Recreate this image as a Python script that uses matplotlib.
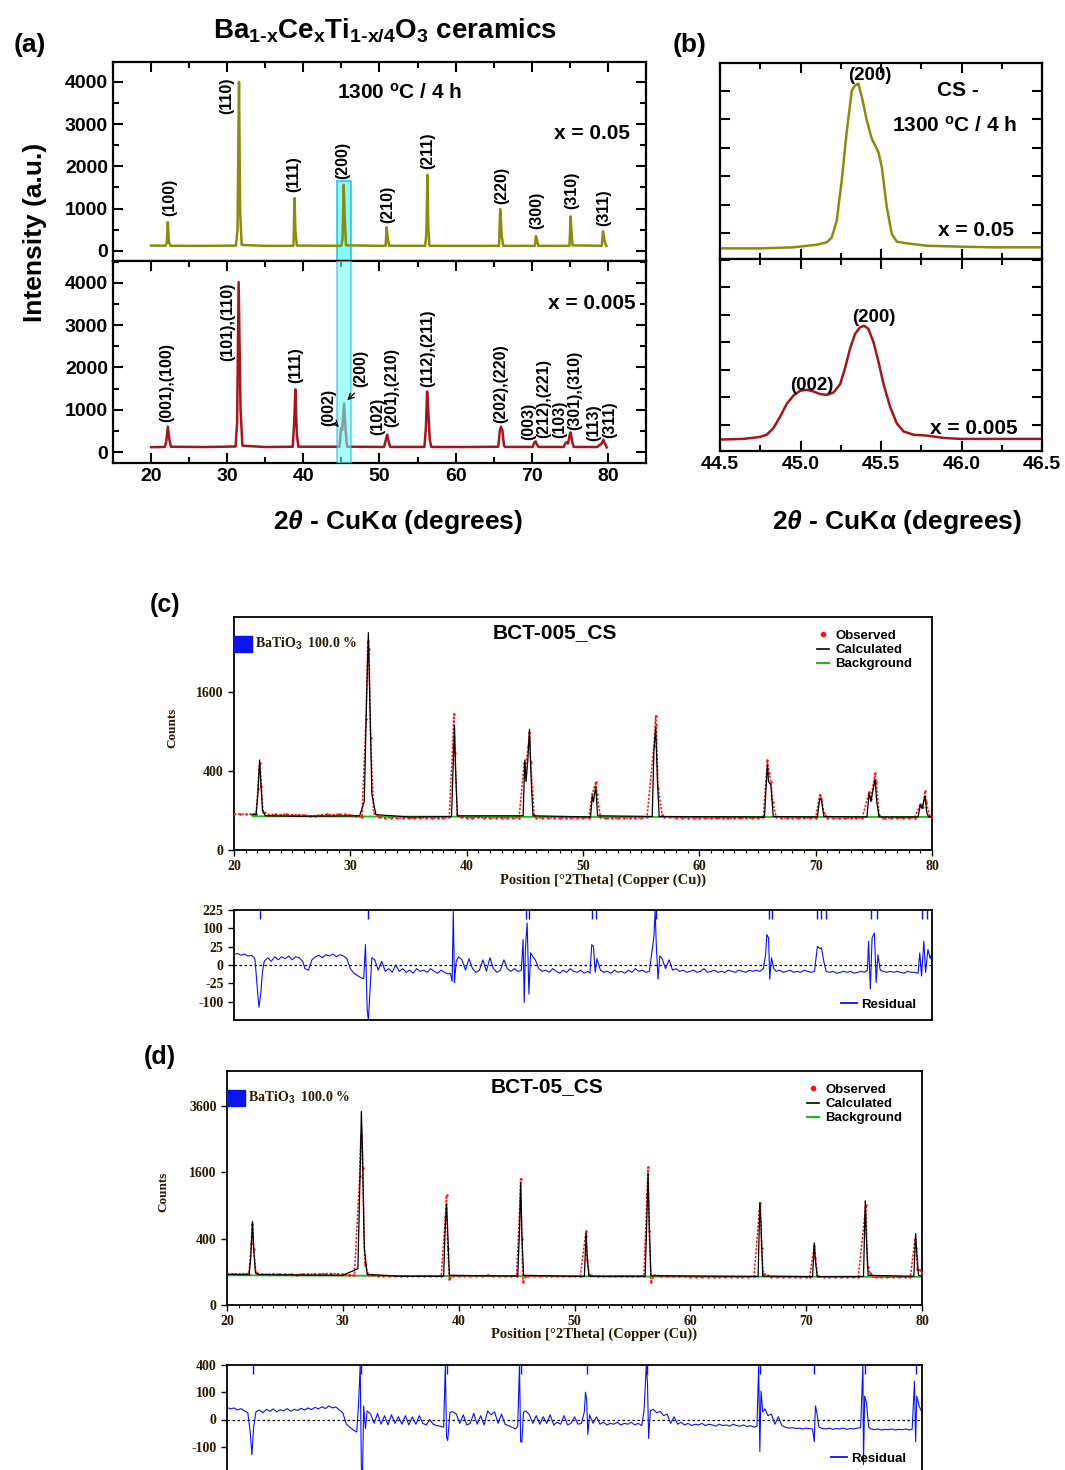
import numpy as np
import matplotlib
matplotlib.use("Agg")
import matplotlib.pyplot as plt
from matplotlib.patches import Rectangle
from matplotlib.lines import Line2D
from matplotlib.ticker import MultipleLocator, FixedLocator

plt.rcParams['font.family'] = ['Liberation Sans', 'DejaVu Sans']
plt.rcParams['font.weight'] = 'bold'
plt.rcParams['axes.unicode_minus'] = False
plt.rcParams['mathtext.fontset'] = 'custom'
plt.rcParams['mathtext.rm'] = 'Liberation Sans:bold'
plt.rcParams['mathtext.it'] = 'Liberation Sans:italic:bold'
plt.rcParams['mathtext.bf'] = 'Liberation Sans:bold'

# ---- panel (a): full patterns, x = 0.05 (top) and x = 0.005 (bottom)
a05_x = [20.0, 21.9, 22.05, 22.2, 22.35, 22.55, 27.0, 31.15, 31.35, 31.55, 31.7, 31.9, 35.0,
         38.7, 38.85, 38.95, 39.15, 45.0, 45.15, 45.3, 45.45, 45.6, 50.8, 50.95, 51.05, 51.25,
         56.0, 56.15, 56.3, 56.4, 56.55, 61.0, 65.7, 65.85, 65.95, 66.05, 66.25, 70.4, 70.55,
         70.7, 70.85, 74.95, 75.1, 75.2, 75.35, 79.2, 79.35, 79.5, 79.65, 79.8]
a05_y = [125, 122, 180, 680, 200, 120, 118, 125, 500, 4000, 900, 140, 118,
         120, 1250, 500, 125, 120, 300, 1560, 700, 130, 118, 560, 350, 120,
         120, 400, 1800, 600, 120, 118, 120, 990, 700, 350, 120, 118, 350,
         250, 118, 120, 820, 500, 130, 120, 460, 300, 180, 115]

a005_x = [20.0, 21.8, 22.0, 22.2, 22.4, 22.6, 27.0, 31.1, 31.3, 31.5, 31.75, 32.0, 35.0,
          38.6, 38.8, 38.95, 39.15, 39.35, 44.75, 44.95, 45.1, 45.35, 45.55, 45.75,
          50.6, 50.85, 51.0, 51.2, 51.4, 55.9, 56.1, 56.25, 56.4, 56.6, 56.8, 61.0,
          65.6, 65.8, 65.95, 66.15, 66.35, 66.5, 70.1, 70.35, 70.5, 70.7, 70.9,
          74.2, 74.45, 74.6, 74.75, 75.0, 75.1, 75.3, 75.5, 78.6, 78.9, 79.05, 79.25,
          79.4, 79.6, 79.85]
a005_y = [115, 120, 250, 600, 300, 125, 118, 130, 700, 4020, 1000, 150, 118,
          125, 700, 1480, 400, 125, 125, 560, 520, 1150, 500, 125,
          120, 300, 410, 250, 120, 120, 600, 1430, 1000, 300, 120, 118,
          125, 500, 600, 500, 150, 120, 120, 230, 252, 170, 120,
          120, 220, 229, 200, 420, 465, 250, 120, 118, 170, 174, 230,
          292, 200, 110]

a05_labels = ["(100)", "(110)", "(111)", "(200)", "(210)", "(211)", "(220)", "(300)", "(310)", "(311)"]
a005_labels = ["(001),(100)", "(101),(110)", "(111)", "(002)", "(200)", "(102)", "(201),(210)",
               "(112),(211)", "(202),(220)", "(003)", "(212),(221)", "(103)", "(301),(310)",
               "(113)", "(311)"]

# ---- panel (b): (200) region
b05_x = [44.500, 44.749, 44.956, 45.101, 45.163, 45.194, 45.225, 45.256, 45.288, 45.319,
         45.339, 45.360, 45.381, 45.412, 45.443, 45.484, 45.505, 45.536, 45.567, 45.598,
         45.661, 45.785, 45.992, 46.199, 46.500]
b05_y = [120, 120, 129, 152, 173, 216, 362, 713, 1151, 1501,
         1545, 1560, 1443, 1238, 1078, 961, 830, 479, 246, 178,
         164, 143, 135, 129, 129]
b005_x = [44.500, 44.645, 44.749, 44.790, 44.832, 44.873, 44.915, 44.956, 44.997, 45.039,
          45.080, 45.122, 45.163, 45.205, 45.246, 45.277, 45.308, 45.339, 45.370, 45.395,
          45.422, 45.453, 45.484, 45.516, 45.557, 45.598, 45.640, 45.702, 45.785, 45.889,
          45.992, 46.199, 46.500]
b005_y = [114, 120, 138, 158, 218, 321, 440, 514, 558, 567,
          552, 528, 520, 543, 617, 765, 943, 1076, 1135, 1150,
          1120, 1002, 824, 617, 410, 262, 188, 158, 150, 129,
          120, 120, 120]

# ---- panel (c): Rietveld fit BCT-005_CS
calc_c_x = [21.6, 21.9, 22.05, 22.2, 22.3, 22.45, 22.7, 26.0, 30.8, 31.2, 31.4, 31.55, 31.7, 31.85,
            32.2, 35.0, 38.7, 38.85, 38.95, 39.05, 39.2, 44.85, 45.0, 45.1, 45.25, 45.4, 45.55,
            45.7, 50.65, 50.8, 50.9, 51.1, 51.25, 55.95, 56.1, 56.25, 56.4, 56.55, 65.6, 65.85,
            65.95, 66.15, 66.35, 70.15, 70.35, 70.5, 70.7, 74.4, 74.6, 74.75, 75.1, 75.25, 75.45,
            78.8, 79.0, 79.15, 79.4, 79.55, 79.7, 80.0]
calc_c_y = [80, 80, 200, 519, 300, 100, 75, 73, 75, 150, 1500, 3027, 1200, 200,
            80, 70, 72, 500, 991, 400, 75, 75, 519, 300, 500, 933, 300,
            75, 70, 189, 150, 262, 75, 72, 641, 959, 300, 72, 70, 474,
            300, 271, 72, 70, 171, 160, 72, 70, 206, 150, 320, 150, 70,
            70, 130, 110, 187, 90, 70, 70]
obs_c_x = [20.0, 20.5, 21.0, 21.5, 21.9, 22.05, 22.15, 22.25, 22.35, 22.5, 23.0, 23.5, 24.0, 24.5,
           25.0, 25.5, 26.0, 26.5, 27.0, 27.5, 28.0, 28.5, 29.0, 29.5, 30.0, 30.5, 31.0, 31.35,
           31.5, 31.6, 31.75, 32.0, 32.5, 33.0, 33.5, 34.0, 34.5, 35.0, 35.5, 36.0, 36.5, 37.0,
           37.5, 38.0, 38.5, 38.8, 38.9, 39.0, 39.2, 39.5, 40.0, 40.5, 41.0, 41.5, 42.0, 42.5,
           43.0, 43.5, 44.0, 44.5, 44.95, 45.05, 45.3, 45.4, 45.5, 45.8, 46.0, 46.5, 47.0, 47.5,
           48.0, 48.5, 49.0, 49.5, 50.0, 50.5, 50.8, 51.1, 51.2, 51.5, 52.0, 52.5, 53.0, 53.5,
           54.0, 54.5, 55.0, 55.5, 56.1, 56.25, 56.3, 56.45, 56.8, 57.0, 57.5, 58.0, 58.5, 59.0,
           59.5, 60.0, 60.5, 61.0, 61.5, 62.0, 62.5, 63.0, 63.5, 64.0, 64.5, 65.0, 65.5, 65.85,
           66.0, 66.15, 66.3, 66.6, 67.0, 67.5, 68.0, 68.5, 69.0, 69.5, 70.0, 70.35, 70.5, 70.7,
           71.0, 71.5, 72.0, 72.5, 73.0, 73.5, 74.0, 74.6, 74.75, 75.1, 75.2, 75.45, 75.8, 76.0,
           76.5, 77.0, 77.5, 78.0, 78.5, 79.0, 79.2, 79.4, 79.5, 79.8, 80.0]
obs_c_y = [84, 83, 82, 83, 85, 240, 420, 480, 260, 95, 80, 81, 80, 82,
           79, 80, 78, 74, 76, 80, 81, 80, 82, 81, 78, 74, 70, 1100,
           2800, 2600, 800, 90, 68, 66, 67, 65, 66, 66, 65, 67, 66, 66,
           65, 66, 68, 700, 1185, 600, 80, 68, 67, 66, 68, 67, 66, 66,
           67, 66, 66, 67, 480, 420, 700, 900, 500, 80, 67, 66, 66, 67,
           65, 66, 67, 66, 66, 67, 200, 299, 200, 68, 64, 64, 65, 65,
           66, 66, 67, 68, 700, 1151, 1000, 250, 80, 70, 68, 67, 67, 66,
           66, 66, 66, 65, 65, 65, 64, 65, 65, 65, 66, 66, 68, 520,
           380, 300, 150, 70, 66, 66, 65, 66, 66, 66, 67, 195, 170, 90,
           66, 65, 64, 64, 65, 65, 66, 215, 170, 377, 300, 80, 66, 66,
           66, 66, 65, 66, 67, 135, 120, 223, 150, 72, 68]
bg_c_x = [21.6, 30.0, 40.0, 50.0, 60.0, 70.0, 80.0]
bg_c_y = [73, 72, 71, 70, 70, 70, 70]
res_c = [(20.0, 8), (20.3, 10), (20.6, 7), (20.9, 9), (21.2, 6), (21.5, 7), (21.8, 3), (22.0, -40),
         (22.15, -133), (22.3, -60), (22.45, -3), (22.6, 1), (22.9, 4), (23.2, 1), (23.5, 5),
         (23.8, 2), (24.1, 5), (24.4, 3), (24.7, 6), (25.0, 2), (25.3, 5), (25.6, 4), (25.9, 1),
         (26.1, -1), (26.4, -2), (26.7, 2), (27.0, 5), (27.3, 7), (27.6, 4), (27.9, 8), (28.2, 6),
         (28.5, 9), (28.8, 5), (29.1, 8), (29.4, 6), (29.7, 3), (30.0, -1), (30.3, -5), (30.6, -8),
         (30.9, -12), (31.15, -14), (31.3, 31), (31.45, -150), (31.55, -225), (31.7, -40),
         (31.85, 4), (32.1, 2), (32.4, -2), (32.7, 1), (33.0, -3), (33.3, -1), (33.6, -4), (33.9, 0),
         (34.2, -3), (34.5, -1), (34.8, -4), (35.1, -2), (35.4, -5), (35.7, -1), (36.0, -3),
         (36.3, -2), (36.6, -4), (36.9, -1), (37.2, -3), (37.5, -5), (37.8, -2), (38.1, -4),
         (38.4, -6), (38.6, -5), (38.75, -20), (38.85, 225), (38.95, -23), (39.1, 1), (39.3, 5),
         (39.6, 2), (39.9, -2), (40.2, 3), (40.5, -1), (40.8, -4), (41.1, -2), (41.4, 2), (41.7, -3),
         (42.0, 4), (42.3, -1), (42.6, -4), (42.9, -2), (43.2, 2), (43.5, -1), (43.8, -3), (44.1, -1),
         (44.4, -3), (44.7, -2), (44.85, 48), (44.95, -104), (45.05, 20), (45.2, 131), (45.35, -63),
         (45.5, 11), (45.7, 5), (45.9, 2), (46.2, -1), (46.5, -3), (46.8, -2), (47.1, -4), (47.4, -1),
         (47.7, -3), (48.0, -5), (48.3, -2), (48.6, -4), (48.9, -1), (49.2, -3), (49.5, -4),
         (49.8, -2), (50.1, -5), (50.4, -3), (50.6, -5), (50.75, 31), (50.9, 25), (51.05, -4),
         (51.2, 3), (51.5, -2), (51.8, -4), (52.1, -3), (52.4, -5), (52.7, -2), (53.0, -4),
         (53.3, -3), (53.6, -5), (53.9, -2), (54.2, -4), (54.5, -1), (54.8, -3), (55.1, -2),
         (55.4, -4), (55.7, -3), (55.95, 18), (56.1, 60), (56.2, 225), (56.3, 31), (56.45, -15),
         (56.6, 6), (56.8, 3), (57.1, -1), (57.4, 2), (57.7, -2), (58.0, -1), (58.3, -3), (58.6, -2),
         (58.9, -4), (59.2, -3), (59.5, -2), (59.8, -4), (60.1, -3), (60.4, -1), (60.7, -4),
         (61.0, -3), (61.3, -2), (61.6, -4), (61.9, -3), (62.2, -4), (62.5, -2), (62.8, -3),
         (63.1, -4), (63.4, -2), (63.7, -3), (64.0, -4), (64.3, -2), (64.6, -3), (64.9, -2),
         (65.2, -3), (65.5, -1), (65.7, 8), (65.8, 69), (65.95, 55), (66.05, -15), (66.2, 4),
         (66.4, -1), (66.6, -3), (66.9, -2), (67.2, -4), (67.5, -3), (67.8, -2), (68.1, -4),
         (68.4, -3), (68.7, -4), (69.0, -2), (69.3, -3), (69.6, -4), (69.9, -3), (70.15, 26),
         (70.35, 20), (70.5, 22), (70.7, 1), (70.9, -3), (71.2, -4), (71.5, -3), (71.8, -5),
         (72.1, -4), (72.4, -3), (72.7, -4), (73.0, -3), (73.3, -5), (73.6, -4), (73.9, -3),
         (74.2, -4), (74.45, -2), (74.55, 42), (74.7, -43), (74.85, 55), (75.05, 76), (75.2, -23),
         (75.35, 8), (75.55, -2), (75.8, -3), (76.1, -4), (76.4, -3), (76.7, -4), (77.0, -3),
         (77.3, -4), (77.6, -5), (77.9, -3), (78.2, -4), (78.5, -4), (78.8, -5), (78.95, 11),
         (79.1, -9), (79.3, 42), (79.45, -4), (79.65, 18), (79.85, 3), (80.0, 12)]
refl_c = [22.2, 31.55, 45.1, 45.4, 50.8, 51.1, 56.25, 65.95, 66.25, 70.15, 70.45, 70.85,
          74.75, 75.3, 79.15, 79.6]

# ---- panel (d): Rietveld fit BCT-05_CS
calc_d_x = [20.0, 21.9, 22.05, 22.2, 22.3, 22.45, 22.7, 26.0, 30.0, 31.3, 31.5, 31.6, 31.7, 31.85,
            32.1, 35.0, 38.7, 38.85, 38.95, 39.05, 39.2, 45.1, 45.25, 45.35, 45.45, 45.6, 50.85,
            51.0, 51.1, 51.25, 56.1, 56.25, 56.35, 56.45, 56.6, 65.85, 66.0, 66.1, 66.25, 70.55,
            70.7, 70.8, 70.95, 74.95, 75.1, 75.2, 75.35, 79.3, 79.45, 79.55, 79.7, 80.0]
calc_d_y = [85, 84, 200, 635, 300, 95, 84, 82, 80, 120, 1700, 3400, 2200, 300,
            85, 75, 75, 600, 930, 500, 80, 76, 500, 1347, 500, 80, 74,
            462, 200, 75, 75, 700, 1576, 600, 78, 74, 949, 600, 76, 73,
            350, 180, 73, 74, 986, 400, 80, 75, 462, 250, 80, 75]
obs_d_x = [20.0, 20.5, 21.0, 21.5, 21.9, 22.1, 22.2, 22.3, 22.5, 23.0, 23.5, 24.0, 24.5, 25.0,
           25.5, 26.0, 26.5, 27.0, 27.5, 28.0, 28.5, 29.0, 29.5, 30.0, 30.5, 31.0, 31.45, 31.55,
           31.7, 31.9, 32.2, 32.5, 33.0, 33.5, 34.0, 34.5, 35.0, 35.5, 36.0, 36.5, 37.0, 37.5,
           38.0, 38.5, 38.85, 38.95, 39.05, 39.2, 39.5, 40.0, 40.5, 41.0, 41.5, 42.0, 42.5, 43.0,
           43.5, 44.0, 44.5, 45.0, 45.3, 45.35, 45.45, 45.55, 45.8, 46.0, 46.5, 47.0, 47.5, 48.0,
           48.5, 49.0, 49.5, 50.0, 50.5, 50.95, 51.0, 51.1, 51.3, 52.0, 52.5, 53.0, 53.5, 54.0,
           54.5, 55.0, 55.5, 56.0, 56.25, 56.35, 56.45, 56.6, 56.9, 57.5, 58.0, 58.5, 59.0, 59.5,
           60.0, 60.5, 61.0, 61.5, 62.0, 62.5, 63.0, 63.5, 64.0, 64.5, 65.0, 65.5, 65.95, 66.05,
           66.15, 66.3, 67.0, 67.5, 68.0, 68.5, 69.0, 69.5, 70.0, 70.3, 70.7, 70.8, 71.0, 71.5,
           72.0, 72.5, 73.0, 73.5, 74.0, 74.5, 75.05, 75.15, 75.3, 75.5, 75.8, 76.0, 76.5, 77.0,
           77.5, 78.0, 78.5, 79.0, 79.4, 79.5, 79.6, 79.8, 80.0]
obs_d_y = [90, 89, 88, 88, 90, 350, 600, 280, 95, 87, 86, 87, 86, 85,
           85, 84, 86, 87, 86, 88, 89, 90, 88, 86, 82, 80, 1500, 2600,
           1700, 150, 84, 80, 78, 78, 77, 77, 76, 76, 77, 76, 76, 76,
           75, 77, 700, 1089, 300, 60, 78, 76, 76, 75, 76, 76, 80, 77,
           76, 76, 76, 78, 1000, 1444, 400, 50, 78, 76, 76, 76, 76, 75,
           76, 76, 75, 76, 76, 430, 497, 180, 80, 76, 75, 76, 76, 77,
           76, 76, 77, 78, 1100, 1722, 500, 50, 80, 77, 76, 76, 75, 74,
           73, 73, 73, 73, 73, 72, 73, 73, 73, 73, 73, 74, 800, 940,
           300, 90, 73, 73, 72, 72, 72, 72, 72, 73, 320, 200, 74, 72,
           71, 71, 71, 71, 72, 72, 700, 900, 130, 95, 75, 71, 71, 70,
           70, 71, 71, 72, 400, 300, 120, 110, 95]
bg_d_x = [20.0, 40.0, 60.0, 80.0]
bg_d_y = [80, 76, 73, 72]
res_d = [(20.0, 20), (20.3, 15), (20.6, 18), (20.9, 12), (21.2, 16), (21.5, 10), (21.8, 6), (22.0, -20),
         (22.15, -167), (22.3, -8), (22.5, 8), (22.8, 12), (23.1, 6), (23.4, 14), (23.7, 9), (24.0, 15),
         (24.3, 8), (24.6, 13), (24.9, 10), (25.2, 16), (25.5, 9), (25.8, 14), (26.1, 11), (26.4, 17),
         (26.7, 12), (27.0, 18), (27.3, 13), (27.6, 20), (27.9, 15), (28.2, 22), (28.5, 16),
         (28.8, 25), (29.1, 18), (29.4, 21), (29.7, 12), (30.0, 6), (30.3, -3), (30.6, -8),
         (30.9, -15), (31.2, -21), (31.35, 25), (31.5, 400), (31.6, -314), (31.7, -400), (31.8, 25),
         (31.95, -11), (32.1, 10), (32.4, 4), (32.7, -2), (33.0, 5), (33.3, -3), (33.6, 2), (33.9, -4),
         (34.2, 3), (34.5, -2), (34.8, 1), (35.1, -3), (35.4, 2), (35.7, -4), (36.0, 1), (36.3, -3),
         (36.6, 2), (36.9, -2), (37.2, -4), (37.5, 0), (37.8, -3), (38.1, -5), (38.4, -6), (38.7, -8),
         (38.85, 400), (38.95, -40), (39.05, -60), (39.25, 7), (39.5, 8), (39.8, 4), (40.1, -2),
         (40.4, 3), (40.7, -4), (41.0, -2), (41.3, 5), (41.6, -3), (41.9, 2), (42.2, -4), (42.5, 10),
         (42.8, 3), (43.1, 8), (43.4, -2), (43.7, 4), (44.0, -3), (44.3, -5), (44.6, -8), (44.9, -12),
         (45.1, -6), (45.25, 400), (45.35, -66), (45.45, -70), (45.6, 7), (45.8, 10), (46.1, 3),
         (46.4, -2), (46.7, 2), (47.0, -3), (47.3, 1), (47.6, -2), (47.9, 3), (48.2, -4), (48.5, -1),
         (48.8, -3), (49.1, 2), (49.4, -4), (49.7, -2), (50.0, 1), (50.3, -3), (50.6, -2), (50.85, 8),
         (50.95, 100), (51.05, 55), (51.15, -30), (51.3, 3), (51.6, -2), (51.9, 1), (52.2, -3),
         (52.5, -1), (52.8, -4), (53.1, -2), (53.4, -3), (53.7, -1), (54.0, -4), (54.3, -2),
         (54.6, -3), (54.9, -1), (55.2, -4), (55.5, -2), (55.8, -5), (56.0, 10), (56.2, 400),
         (56.3, 180), (56.4, -48), (56.55, 10), (56.8, 14), (57.1, 6), (57.4, 9), (57.7, 2), (58.0, 4),
         (58.3, -2), (58.6, 1), (58.9, -3), (59.2, -1), (59.5, -4), (59.8, -2), (60.1, -5), (60.4, -3),
         (60.7, -4), (61.0, -2), (61.3, -5), (61.6, -3), (61.9, -4), (62.2, -6), (62.5, -3),
         (62.8, -5), (63.1, -4), (63.4, -6), (63.7, -3), (64.0, -5), (64.3, -6), (64.6, -4),
         (64.9, -7), (65.2, -5), (65.5, -8), (65.75, -6), (65.9, 400), (66.0, -138), (66.1, 109),
         (66.25, 8), (66.45, 15), (66.7, 2), (67.0, 4), (67.3, -3), (67.6, 1), (67.9, -5), (68.2, -8),
         (68.5, -10), (68.8, -9), (69.1, -11), (69.4, -10), (69.7, -12), (70.0, -10), (70.3, -11),
         (70.55, -12), (70.7, -66), (70.8, 25), (70.9, 10), (71.1, -8), (71.4, -11), (71.7, -12),
         (72.0, -10), (72.3, -13), (72.6, -11), (72.9, -12), (73.2, -10), (73.5, -13), (73.8, -11),
         (74.1, -12), (74.4, -10), (74.7, -9), (74.9, 400), (74.95, -273), (75.05, 74), (75.2, 39),
         (75.4, -8), (75.6, -12), (75.9, -14), (76.2, -12), (76.5, -15), (76.8, -13), (77.1, -14),
         (77.4, -12), (77.7, -15), (78.0, -13), (78.3, -14), (78.6, -12), (78.9, -15), (79.15, -13),
         (79.35, 196), (79.45, -66), (79.55, 74), (79.75, 25), (79.9, 12), (80.0, 10)]
refl_d = [22.25, 31.6, 38.95, 45.35, 51.05, 56.3, 66.0, 70.7, 75.05, 79.45]

W, H = 1065, 1470
OLIVE = '#8c8c0a'
DRED = '#a8141c'
TXT = '#2b1a00'
XLAB = r'2$\theta$ - CuK$\mathrm{\alpha}$ (degrees)'


def box(x0, y0, x1, y1):
    return [x0 / W, 1 - y1 / H, (x1 - x0) / W, (y1 - y0) / H]


def ftext(x, y, s, **kw):
    fig.text(x / W, 1 - y / H, s, **kw)


def style_ab(ax):
    for s in ax.spines.values():
        s.set_linewidth(1.6)
    ax.tick_params(which='both', direction='in', top=True, right=True, width=1.5, labelsize=14)
    ax.tick_params(which='major', length=7)
    ax.tick_params(which='minor', length=4)


def sqrt_scale(ax):
    ax.set_yscale('function', functions=(lambda y: np.sqrt(np.clip(y, 0, None)), lambda y: y ** 2))


def ssqrt_scale(ax):
    ax.set_yscale('function', functions=(lambda y: np.sign(y) * np.sqrt(np.abs(y)),
                                         lambda y: np.sign(y) * y ** 2))


def style_cd(ax):
    for s in ax.spines.values():
        s.set_linewidth(1.3)
    ax.tick_params(which='major', direction='out', length=4, width=1.0, labelsize=10,
                   labelcolor=TXT, labelfontfamily='Liberation Serif')
    ax.tick_params(which='minor', direction='out', length=2, width=0.8)


fig = plt.figure(figsize=(W / 100, H / 100), dpi=100)

# ================= panel (a)
axa1 = fig.add_axes(box(113, 62, 646, 261))
axa2 = fig.add_axes(box(113, 261, 646, 463))
axa1.plot(a05_x, a05_y, color=OLIVE, lw=1.8, zorder=3)
axa2.plot(a005_x, a005_y, color=DRED, lw=1.8, zorder=2)
for ax, yl in ((axa1, (-240, 4470)), (axa2, (-260, 4520))):
    style_ab(ax)
    ax.set_xlim(15, 85)
    ax.set_ylim(*yl)
    ax.xaxis.set_major_locator(MultipleLocator(10))
    ax.xaxis.set_minor_locator(MultipleLocator(5))
    ax.yaxis.set_major_locator(MultipleLocator(1000))
    ax.yaxis.set_minor_locator(MultipleLocator(500))
axa1.tick_params(labelbottom=False, bottom=False, which='both')
axa2.set_xticks(range(20, 81, 10))

# cyan highlight of the (200) region
axa1.add_patch(Rectangle((44.4, -240), 1.8, 1890, facecolor='#6ffcff', edgecolor='#18b8d8',
                         lw=1.2, alpha=0.85, zorder=2))
axa2.add_patch(Rectangle((44.4, -260), 1.8, 4780, facecolor='#6ffcff', edgecolor='#18b8d8',
                         lw=1.2, alpha=0.6, zorder=3))

lab_a05 = [(22.4, 830), (30.0, 3250), (38.7, 1390), (45.2, 1700), (51.1, 670),
           (56.4, 1940), (66.1, 1110), (70.7, 515), (75.3, 990), (79.4, 590)]
for s, (x, y) in zip(a05_labels, lab_a05):
    axa1.text(x, y, s, rotation=90, ha='center', va='bottom', fontsize=11.5)
lab_a005 = [(22.1, 720), (30.1, 2150), (39.0, 1630), (43.3, 610), (47.6, 1550), (49.8, 410),
            (51.6, 600), (56.3, 1550), (65.9, 690), (69.6, 290), (71.6, 330), (73.7, 330),
            (75.6, 530), (78.1, 250), (80.2, 330)]
for s, (x, y) in zip(a005_labels, lab_a005):
    axa2.text(x, y, s, rotation=90, ha='center', va='bottom', fontsize=11.5, zorder=5)
axa2.annotate('', xy=(44.9, 540), xytext=(44.1, 700),
              arrowprops=dict(arrowstyle='->', color='k', lw=0.9), zorder=6)
axa2.annotate('', xy=(45.5, 1180), xytext=(47.0, 1440),
              arrowprops=dict(arrowstyle='->', color='k', lw=0.9), zorder=6)

axa1.text(0.97, 0.64, 'x = 0.05', transform=axa1.transAxes, ha='right', va='center', fontsize=15)
axa2.text(0.98, 0.79, 'x = 0.005', transform=axa2.transAxes, ha='right', va='center', fontsize=15)
ftext(400, 93, r'1300 $^{\mathrm{o}}$C / 4 h', ha='center', va='center', fontsize=15)
ftext(385, 30, r'Ba$_{\text{1-x}}$Ce$_{\text{x}}$Ti$_{\text{1-x/4}}$O$_{\text{3}}$ ceramics',
      ha='center', va='center', fontsize=20)
ftext(30, 45, '(a)', ha='center', va='center', fontsize=19)
ftext(35, 232, 'Intensity (a.u.)', rotation=90, ha='center', va='center', fontsize=19)
ftext(398, 522, XLAB, ha='center', va='center', fontsize=19)

# ================= panel (b)
axb1 = fig.add_axes(box(720, 63, 1042, 259))
axb2 = fig.add_axes(box(720, 259, 1042, 451))
axb1.plot(b05_x, b05_y, color=OLIVE, lw=1.8)
axb2.plot(b005_x, b005_y, color=DRED, lw=1.8)
for ax, yl in ((axb1, (27, 1741)), (axb2, (10, 1757))):
    style_ab(ax)
    ax.set_xlim(44.5, 46.5)
    ax.set_ylim(*yl)
    ax.xaxis.set_major_locator(MultipleLocator(0.5))
    ax.xaxis.set_minor_locator(MultipleLocator(0.25))
    ax.yaxis.set_major_locator(MultipleLocator(250))
    ax.tick_params(labelleft=False)
axb1.tick_params(labelbottom=False)
axb2.set_xticks([44.5, 45.0, 45.5, 46.0, 46.5])
axb2.set_xticklabels(['44.5', '45.0', '45.5', '46.0', '46.5'])
ftext(690, 45, '(b)', ha='center', va='center', fontsize=19)
ftext(870, 75, '(200)', ha='center', va='center', fontsize=13.5)
ftext(958, 91, 'CS -', ha='center', va='center', fontsize=15)
ftext(955, 126, r'1300 $^{\mathrm{o}}$C / 4 h', ha='center', va='center', fontsize=15)
ftext(976, 230, 'x = 0.05', ha='center', va='center', fontsize=15)
ftext(874, 318, '(200)', ha='center', va='center', fontsize=13.5)
ftext(812, 385, '(002)', ha='center', va='center', fontsize=13.5)
ftext(974, 428, 'x = 0.005', ha='center', va='center', fontsize=15)
ftext(897, 522, XLAB, ha='center', va='center', fontsize=19)


# ================= panels (c) and (d)
def rietveld(ax, axr, ox, oy, cx, cy, bx, by, res, refl, top, yt, rt, name, tag, pos):
    sqrt_scale(ax)
    ax.plot(bx, by, color='#22b822', lw=1.3, zorder=2)
    ax.plot(ox, oy, color='#ff1010', lw=1.1, ls=(0, (1.5, 1)), zorder=3)
    ax.plot(ox, oy, 'o', color='#ff1010', ms=1.8, mew=0, zorder=3)
    ax.plot(cx, cy, color='k', lw=0.9, zorder=4)
    ax.set_xlim(20, 80)
    ax.set_ylim(0, top)
    ax.yaxis.set_major_locator(FixedLocator(yt))
    ax.yaxis.set_minor_locator(FixedLocator([]))
    ax.xaxis.set_major_locator(MultipleLocator(10))
    ax.xaxis.set_minor_locator(MultipleLocator(1))
    style_cd(ax)
    ax.add_patch(Rectangle((0, 0.85), 0.026, 0.068, transform=ax.transAxes, color='#0a14f0',
                           clip_on=False, zorder=5))
    ax.text(0.03, 0.885, r'BaTiO$_{\mathrm{3}}$  100.0 %', transform=ax.transAxes, va='center',
            ha='left', fontsize=10, family='Liberation Serif', color=TXT)
    h = [Line2D([], [], ls='none', marker='o', ms=3, color='#ff1010'),
         Line2D([], [], color='k', lw=1.2), Line2D([], [], color='#22b822', lw=1.5)]
    ax.legend(h, ['Observed', 'Calculated', 'Background'], loc='upper right',
              bbox_to_anchor=(0.985, 0.985), frameon=False, fontsize=9.5, handlelength=0.9,
              handletextpad=0.5, labelspacing=0.15, borderpad=0.2)
    ax.text(0.46, 0.935, name, transform=ax.transAxes, ha='center', va='center', fontsize=15)

    ssqrt_scale(axr)
    axr.axhline(0, color='k', lw=0.9, ls=(0, (2, 2)), zorder=1)
    rx = [p[0] for p in res]
    ry = [p[1] for p in res]
    axr.plot(rx, ry, color='#0a10ff', lw=0.8, zorder=2)
    axr.vlines(refl, 0.92, 1.0, transform=axr.get_xaxis_transform(), color='#0a10ff', lw=1.0)
    axr.set_xlim(20, 80)
    axr.set_ylim(-rt[0], rt[0])
    axr.yaxis.set_major_locator(FixedLocator(rt))
    axr.yaxis.set_minor_locator(FixedLocator([]))
    axr.set_xticks([])
    style_cd(axr)
    axr.legend([Line2D([], [], color='#0a10ff', lw=1.3)], ['Residual'], loc='lower right',
               bbox_to_anchor=(0.99, 0.0), frameon=False, fontsize=9.5, handlelength=1.2,
               handletextpad=0.3, borderpad=0.2)
    ftext(pos[0], pos[1], tag, ha='center', va='center', fontsize=18)
    ftext(pos[2], pos[3], 'Counts', rotation=90, ha='center', va='center', fontsize=9.5,
          family='Liberation Serif', color=TXT)
    ftext(pos[4], pos[5], 'Position [°2Theta] (Copper (Cu))', ha='center', va='center',
          fontsize=10.5, family='Liberation Serif', color=TXT)


axc = fig.add_axes(box(234, 617, 932, 850))
axcr = fig.add_axes(box(234, 910, 932, 1020))
rietveld(axc, axcr, obs_c_x, obs_c_y, calc_c_x, calc_c_y, bg_c_x, bg_c_y, res_c, refl_c,
         3480, [0, 400, 1600], [225, 100, 25, 0, -25, -100], 'BCT-005_CS', '(c)',
         (165, 605, 172, 728, 603, 880))

axd = fig.add_axes(box(227, 1071, 922, 1305))
axdr = fig.add_axes(box(227, 1365, 922, 1474))
rietveld(axd, axdr, obs_d_x, obs_d_y, calc_d_x, calc_d_y, bg_d_x, bg_d_y, res_d, refl_d,
         4970, [0, 400, 1600, 3600], [400, 100, 0, -100], 'BCT-05_CS', '(d)',
         (160, 1057, 163, 1192, 594, 1334))

fig.savefig('out.png', dpi=100)
